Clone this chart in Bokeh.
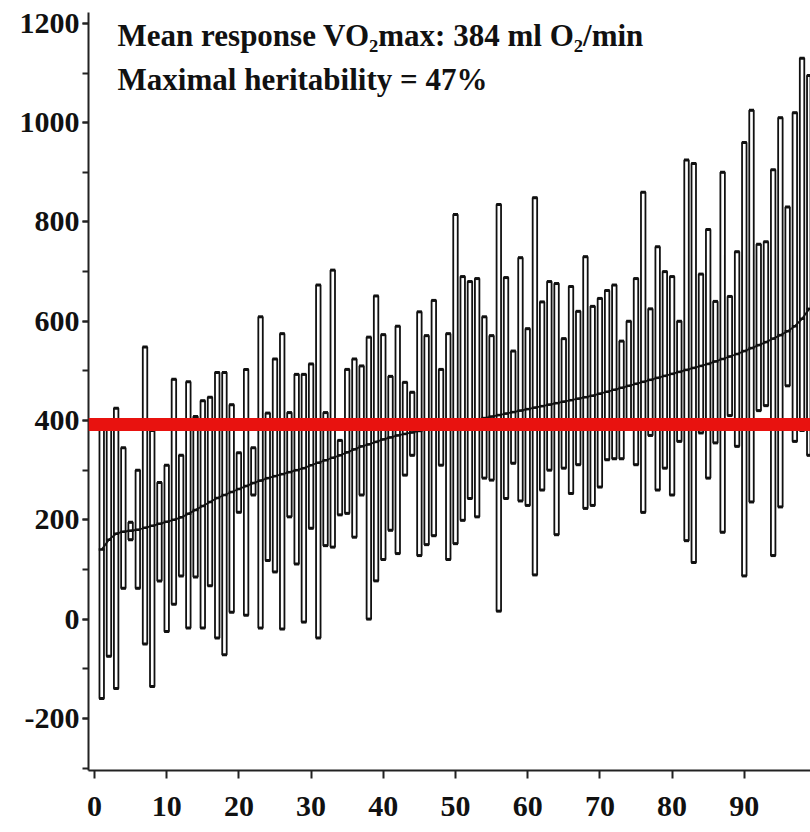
from bokeh.plotting import figure
from bokeh.models import Range1d, SingleIntervalTicker, Span, Label, PrintfTickFormatter
from bokeh.embed import file_html
from bokeh.resources import INLINE

# ---- data ----
family = list(range(1, 100))
family_max = [395, 390, 425, 345, 195, 300, 548, 380, 275, 310,
              483, 330, 478, 408, 440, 447, 497, 497, 432, 335,
              503, 345, 609, 415, 524, 575, 416, 493, 493, 514,
              673, 416, 703, 360, 503, 524, 510, 568, 651, 573,
              489, 590, 477, 457, 619, 571, 642, 503, 575, 815,
              690, 680, 686, 609, 571, 835, 688, 540, 728, 585,
              849, 639, 680, 676, 565, 670, 620, 730, 630, 646,
              662, 673, 560, 600, 686, 860, 625, 750, 700, 690,
              600, 925, 918, 695, 785, 640, 900, 650, 740, 960,
              1025, 755, 760, 905, 1010, 830, 1020, 1130, 1095]
family_min = [-160, -75, -140, 62, 160, 62, -50, -136, 77, -25,
              30, 87, -18, 85, -18, 67, -38, -72, 14, 215,
              8, 250, -18, 118, 95, -20, 206, 111, -6, 183,
              -38, 148, 145, 210, 213, 165, 250, 0, 77, 120,
              179, 132, 290, 330, 128, 150, 168, 310, 120, 152,
              199, 243, 206, 284, 280, 16, 243, 314, 238, 229,
              89, 260, 300, 170, 304, 253, 311, 223, 229, 266,
              321, 323, 323, 395, 311, 215, 370, 260, 304, 250,
              358, 158, 114, 375, 284, 355, 175, 410, 348, 87,
              236, 420, 430, 128, 226, 470, 358, 380, 330]
family_mean = [140, 160, 172, 176, 178, 180, 184, 188, 192, 196,
               200, 205, 212, 220, 228, 236, 244, 250, 256, 262,
               268, 274, 279, 284, 288, 292, 296, 300, 304, 310,
               315, 320, 325, 330, 336, 342, 348, 352, 357, 362,
               366, 370, 373, 376, 379, 382, 385, 388, 390, 393,
               396, 399, 402, 405, 408, 411, 414, 417, 420, 423,
               426, 429, 432, 435, 438, 441, 444, 447, 450, 454,
               458, 462, 466, 470, 474, 478, 482, 486, 490, 494,
               498, 502, 506, 510, 514, 519, 524, 529, 534, 540,
               546, 552, 558, 565, 572, 580, 590, 605, 625]
red_line_value = 392
y_tick_step = 200
x_tick_step = 10
note_line_1 = "Mean response VO\u2082max: 384 ml O\u2082/min"
note_line_2 = "Maximal heritability = 47%"

FONT = "Liberation Serif"
INK = "#111111"

p = figure(width=810, height=832, output_backend="svg", toolbar_location=None,
           x_range=Range1d(-0.83, 99.17), y_range=Range1d(-305, 1222),
           min_border_left=88, min_border_right=0, min_border_top=12,
           min_border_bottom=62)
p.outline_line_color = None
p.xgrid.grid_line_color = None
p.ygrid.grid_line_color = None
p.background_fill_color = "white"
p.border_fill_color = "white"

# bars: family range (min..max)
p.vbar(x=family, bottom=family_min, top=family_max, width=0.62,
       fill_color="white", line_color=INK, line_width=1.8)
# end caps
p.scatter(x=family, y=family_max, marker="dash", size=5, line_width=3,
          line_color=INK)
p.scatter(x=family, y=family_min, marker="dash", size=5, line_width=3,
          line_color=INK)
# family means
p.scatter(x=family, y=family_mean, marker="dash", size=6, line_width=2.5,
          line_color=INK)
p.line(x=family, y=family_mean, line_color=INK, line_width=1.8)

# red reference line
p.add_layout(Span(location=red_line_value, dimension="width",
                  line_color="#e8120f", line_width=13))

# annotations
p.add_layout(Label(x=3.2, y=1176, text=note_line_1, text_font=FONT,
                   text_font_style="bold", text_font_size="31px",
                   text_color=INK, text_baseline="alphabetic"))
p.add_layout(Label(x=3.2, y=1087, text=note_line_2, text_font=FONT,
                   text_font_style="bold", text_font_size="31px",
                   text_color=INK, text_baseline="alphabetic"))

# axes
p.yaxis.ticker = SingleIntervalTicker(interval=y_tick_step, num_minor_ticks=2)
p.xaxis.ticker = SingleIntervalTicker(interval=x_tick_step, num_minor_ticks=0)
p.yaxis.formatter = PrintfTickFormatter(format="%d")
for ax in (p.xaxis[0], p.yaxis[0]):
    ax.axis_line_color = "#222222"
    ax.axis_line_width = 2
    ax.major_tick_line_color = "#222222"
    ax.major_tick_line_width = 2
    ax.minor_tick_line_color = "#222222"
    ax.minor_tick_line_width = 2
    ax.major_tick_in = 0
    ax.minor_tick_in = 0
    ax.major_label_text_font = FONT
    ax.major_label_text_font_style = "bold"
    ax.major_label_text_font_size = "30px"
    ax.major_label_text_color = INK
p.yaxis.major_tick_out = 6
p.yaxis.minor_tick_out = 6
p.yaxis.major_label_standoff = 3
p.xaxis.major_tick_out = 8
p.xaxis.minor_tick_out = 0
p.xaxis.major_label_standoff = 18

open("out.html", "w").write(file_html(p, INLINE))
